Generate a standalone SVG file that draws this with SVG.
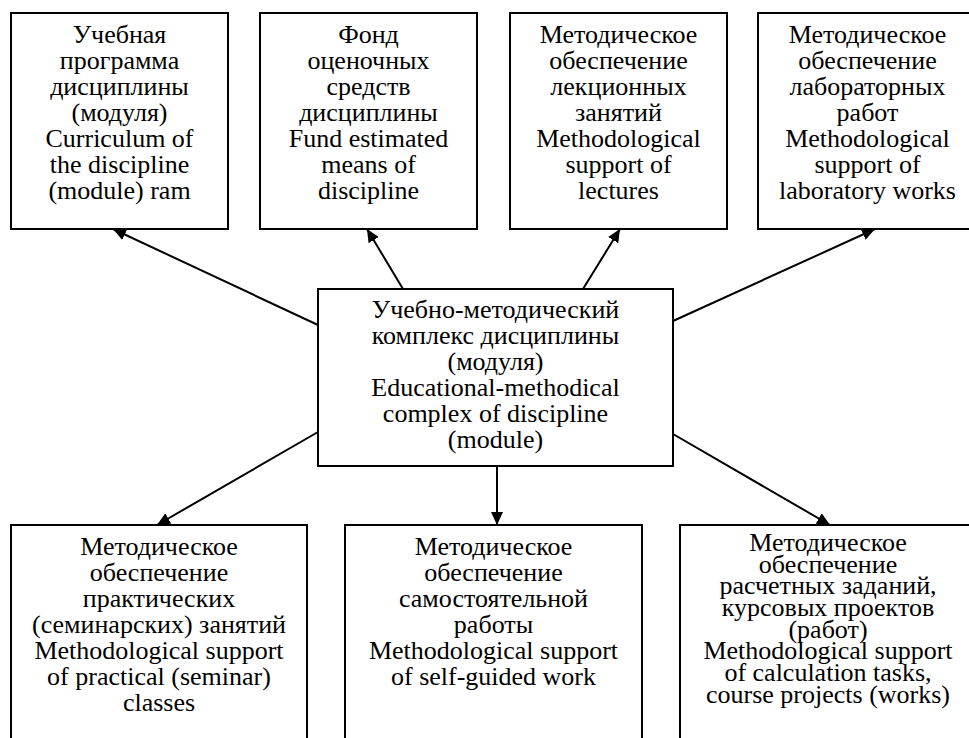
<svg xmlns="http://www.w3.org/2000/svg" width="969" height="738" viewBox="0 0 969 738">
<defs>
<marker id="ah" markerUnits="userSpaceOnUse" markerWidth="14" markerHeight="12" refX="13" refY="6" orient="auto">
<path d="M0,0 L13,6 L0,12 Z" fill="#000"/>
</marker>
</defs>
<rect width="969" height="738" fill="#fff"/>
<g id="conn" stroke="#000" stroke-width="2">
<line x1="318" y1="325" x2="113" y2="229" marker-end="url(#ah)"/>
<line x1="403" y1="289" x2="367" y2="229" marker-end="url(#ah)"/>
<line x1="583" y1="289" x2="620" y2="229" marker-end="url(#ah)"/>
<line x1="673" y1="321" x2="875" y2="229" marker-end="url(#ah)"/>
<line x1="318" y1="432" x2="157" y2="525" marker-end="url(#ah)"/>
<line x1="497" y1="466" x2="497" y2="525" marker-end="url(#ah)"/>
<line x1="673" y1="434" x2="830" y2="525" marker-end="url(#ah)"/>
</g>
<g font-family="Times New Roman, Liberation Serif, serif" font-size="26" fill="#000" text-anchor="middle">
<g id="n1">
<rect x="11" y="13" width="217" height="216" fill="#fff" stroke="#000" stroke-width="2"/>
<text font-family="Times New Roman, Liberation Serif, serif" x="119.5" y="43">Учебная</text>
<text font-family="Times New Roman, Liberation Serif, serif" x="119.5" y="69">программа</text>
<text font-family="Times New Roman, Liberation Serif, serif" x="119.5" y="95">дисциплины</text>
<text font-family="Times New Roman, Liberation Serif, serif" x="119.5" y="121">(модуля)</text>
<text font-family="Times New Roman, Liberation Serif, serif" x="119.5" y="147">Curriculum of</text>
<text font-family="Times New Roman, Liberation Serif, serif" x="119.5" y="173">the discipline</text>
<text font-family="Times New Roman, Liberation Serif, serif" x="119.5" y="199">(module) ram</text>
</g>
<g id="n2">
<rect x="260" y="13" width="217" height="216" fill="#fff" stroke="#000" stroke-width="2"/>
<text font-family="Times New Roman, Liberation Serif, serif" x="368.5" y="43">Фонд</text>
<text font-family="Times New Roman, Liberation Serif, serif" x="368.5" y="69">оценочных</text>
<text font-family="Times New Roman, Liberation Serif, serif" x="368.5" y="95">средств</text>
<text font-family="Times New Roman, Liberation Serif, serif" x="368.5" y="121">дисциплины</text>
<text font-family="Times New Roman, Liberation Serif, serif" x="368.5" y="147">Fund estimated</text>
<text font-family="Times New Roman, Liberation Serif, serif" x="368.5" y="173">means of</text>
<text font-family="Times New Roman, Liberation Serif, serif" x="368.5" y="199">discipline</text>
</g>
<g id="n3">
<rect x="510" y="13" width="217" height="216" fill="#fff" stroke="#000" stroke-width="2"/>
<text font-family="Times New Roman, Liberation Serif, serif" x="618.5" y="43">Методическое</text>
<text font-family="Times New Roman, Liberation Serif, serif" x="618.5" y="69">обеспечение</text>
<text font-family="Times New Roman, Liberation Serif, serif" x="618.5" y="95">лекционных</text>
<text font-family="Times New Roman, Liberation Serif, serif" x="618.5" y="121">занятий</text>
<text font-family="Times New Roman, Liberation Serif, serif" x="618.5" y="147">Methodological</text>
<text font-family="Times New Roman, Liberation Serif, serif" x="618.5" y="173">support of</text>
<text font-family="Times New Roman, Liberation Serif, serif" x="618.5" y="199">lectures</text>
</g>
<g id="n4">
<rect x="758" y="13" width="220" height="216" fill="#fff" stroke="#000" stroke-width="2"/>
<text font-family="Times New Roman, Liberation Serif, serif" x="867.5" y="43">Методическое</text>
<text font-family="Times New Roman, Liberation Serif, serif" x="867.5" y="69">обеспечение</text>
<text font-family="Times New Roman, Liberation Serif, serif" x="867.5" y="95">лабораторных</text>
<text font-family="Times New Roman, Liberation Serif, serif" x="867.5" y="121">работ</text>
<text font-family="Times New Roman, Liberation Serif, serif" x="867.5" y="147">Methodological</text>
<text font-family="Times New Roman, Liberation Serif, serif" x="867.5" y="173">support of</text>
<text font-family="Times New Roman, Liberation Serif, serif" x="867.5" y="199">laboratory works</text>
</g>
<g id="center">
<rect x="318" y="289" width="355" height="177" fill="#fff" stroke="#000" stroke-width="2"/>
<text font-family="Times New Roman, Liberation Serif, serif" x="495.5" y="318">Учебно-методический</text>
<text font-family="Times New Roman, Liberation Serif, serif" x="495.5" y="344">комплекс дисциплины</text>
<text font-family="Times New Roman, Liberation Serif, serif" x="495.5" y="370">(модуля)</text>
<text font-family="Times New Roman, Liberation Serif, serif" x="495.5" y="396">Educational-methodical</text>
<text font-family="Times New Roman, Liberation Serif, serif" x="495.5" y="422">complex of discipline</text>
<text font-family="Times New Roman, Liberation Serif, serif" x="495.5" y="448">(module)</text>
</g>
<g id="n5">
<rect x="11" y="525" width="296" height="230" fill="#fff" stroke="#000" stroke-width="2"/>
<text font-family="Times New Roman, Liberation Serif, serif" x="159" y="555">Методическое</text>
<text font-family="Times New Roman, Liberation Serif, serif" x="159" y="581">обеспечение</text>
<text font-family="Times New Roman, Liberation Serif, serif" x="159" y="607">практических</text>
<text font-family="Times New Roman, Liberation Serif, serif" x="159" y="633">(семинарских) занятий</text>
<text font-family="Times New Roman, Liberation Serif, serif" x="159" y="659">Methodological support</text>
<text font-family="Times New Roman, Liberation Serif, serif" x="159" y="685">of practical (seminar)</text>
<text font-family="Times New Roman, Liberation Serif, serif" x="159" y="711">classes</text>
</g>
<g id="n6">
<rect x="345" y="525" width="297" height="230" fill="#fff" stroke="#000" stroke-width="2"/>
<text font-family="Times New Roman, Liberation Serif, serif" x="493.5" y="555">Методическое</text>
<text font-family="Times New Roman, Liberation Serif, serif" x="493.5" y="581">обеспечение</text>
<text font-family="Times New Roman, Liberation Serif, serif" x="493.5" y="607">самостоятельной</text>
<text font-family="Times New Roman, Liberation Serif, serif" x="493.5" y="633">работы</text>
<text font-family="Times New Roman, Liberation Serif, serif" x="493.5" y="659">Methodological support</text>
<text font-family="Times New Roman, Liberation Serif, serif" x="493.5" y="685">of self-guided work</text>
</g>
<g id="n7">
<rect x="680" y="525" width="297" height="230" fill="#fff" stroke="#000" stroke-width="2"/>
<text font-family="Times New Roman, Liberation Serif, serif" x="828" y="551">Методическое</text>
<text font-family="Times New Roman, Liberation Serif, serif" x="828" y="573">обеспечение</text>
<text font-family="Times New Roman, Liberation Serif, serif" x="828" y="594">расчетных заданий,</text>
<text font-family="Times New Roman, Liberation Serif, serif" x="828" y="616">курсовых проектов</text>
<text font-family="Times New Roman, Liberation Serif, serif" x="828" y="638">(работ)</text>
<text font-family="Times New Roman, Liberation Serif, serif" x="828" y="659">Methodological support</text>
<text font-family="Times New Roman, Liberation Serif, serif" x="828" y="681">of calculation tasks,</text>
<text font-family="Times New Roman, Liberation Serif, serif" x="828" y="703">course projects (works)</text>
</g>
</g>
</svg>
